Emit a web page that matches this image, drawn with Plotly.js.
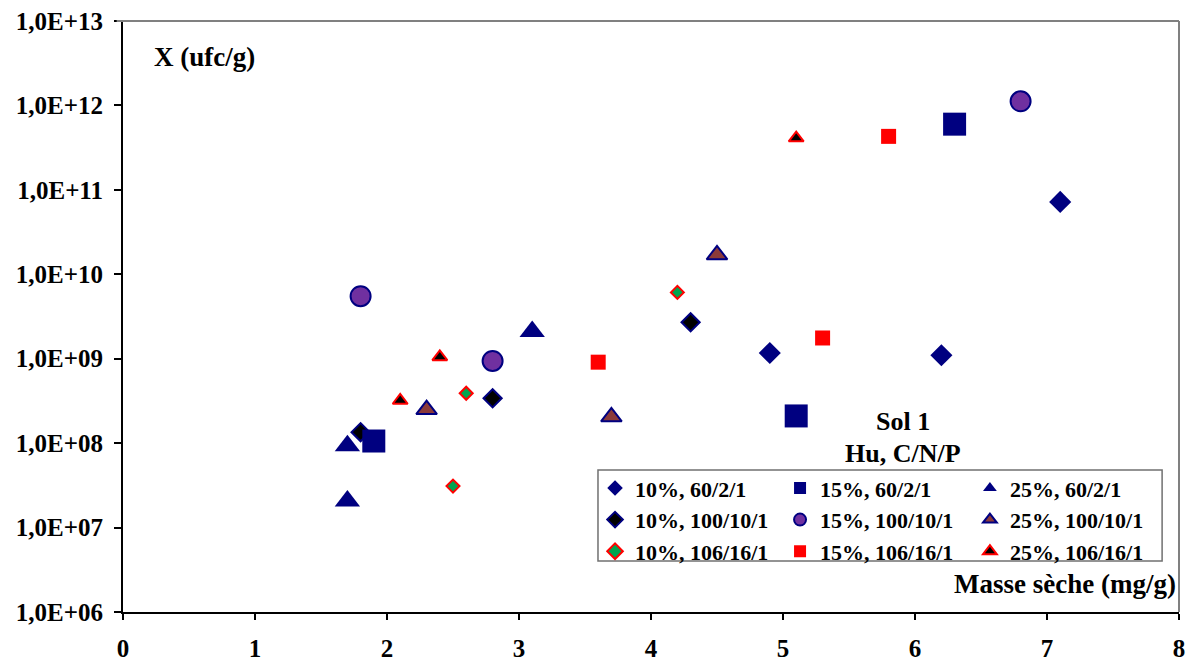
<!DOCTYPE html>
<html>
<head>
<meta charset="utf-8">
<script src="https://cdn.plot.ly/plotly-3.0.1.min.js"></script>
<style>
  html, body { margin: 0; padding: 0; background: #ffffff; }
  #chart { width: 1190px; height: 662px; }
</style>
</head>
<body>
<div id="chart"></div>
<script>
// Dry mass (mg/g) and bacterial count X (ufc/g), soil 1, by humidity and C/N/P ratio
const h10_60 = { x: [4.9, 6.2, 7.1], y: [1.17e9, 1.1e9, 7.2e10] };
const h15_60 = { x: [1.9, 5.1, 6.3], y: [1.06e8, 2.1e8, 6.0e11] };
const h25_60 = { x: [1.7, 1.7, 3.1], y: [9.3e7, 2.07e7, 2.1e9] };
const h10_100 = { x: [1.8, 2.8, 4.3], y: [1.35e8, 3.4e8, 2.7e9] };
const h15_100 = { x: [1.8, 2.8, 6.8], y: [5.5e9, 9.4e8, 1.12e12] };
const h25_100 = { x: [2.3, 3.7, 4.5], y: [2.5e8, 2.05e8, 1.7e10] };
const h10_106 = { x: [2.5, 2.6, 4.2], y: [3.1e7, 3.9e8, 6.1e9] };
const h15_106 = { x: [3.6, 5.3, 5.8], y: [9.1e8, 1.76e9, 4.3e11] };
const h25_106 = { x: [2.1, 2.4, 5.1], y: [3.2e8, 1.05e9, 4.1e11] };

const seriesNames = [
  '10%, 60/2/1', '15%, 60/2/1', '25%, 60/2/1',
  '10%, 100/10/1', '15%, 100/10/1', '25%, 100/10/1',
  '10%, 106/16/1', '15%, 106/16/1', '25%, 106/16/1'
];

const yTickVals = [1e6, 1e7, 1e8, 1e9, 1e10, 1e11, 1e12, 1e13];
const yTickText = ['1,0E+06', '1,0E+07', '1,0E+08', '1,0E+09', '1,0E+10', '1,0E+11', '1,0E+12', '1,0E+13'];
const xTickVals = [0, 1, 2, 3, 4, 5, 6, 7, 8];

const FONT = 'Liberation Serif, Times New Roman, serif';
const NAVY = '#000080';

function pts(d, name, legend, marker) {
  return { type: 'scatter', mode: 'markers', x: d.x, y: d.y, name: name,
           legend: legend, marker: marker, hoverinfo: 'x+y+name' };
}

const traces = [
  pts(h10_60, seriesNames[0], 'legend', { symbol: 'diamond', size: 17, color: NAVY, line: { color: NAVY, width: 0 } }),
  pts(h10_100, seriesNames[3], 'legend', { symbol: 'diamond', size: 14, color: '#000000', line: { color: NAVY, width: 2 } }),
  pts(h10_106, seriesNames[6], 'legend', { symbol: 'diamond', size: 10, color: '#00A550', line: { color: '#FF0000', width: 2 } }),
  pts(h15_60, seriesNames[1], 'legend2', { symbol: 'square', size: 23, color: NAVY, line: { color: NAVY, width: 0 } }),
  pts(h15_100, seriesNames[4], 'legend2', { symbol: 'circle', size: 20, color: '#7030A0', line: { color: NAVY, width: 2 } }),
  pts(h15_106, seriesNames[7], 'legend2', { symbol: 'square', size: 15, color: '#FF0000', line: { color: '#FF0000', width: 0 } }),
  pts(h25_60, seriesNames[2], 'legend3', { symbol: 'triangle-up', size: 22, color: NAVY, line: { color: NAVY, width: 0 } }),
  pts(h25_100, seriesNames[5], 'legend3', { symbol: 'triangle-up', size: 18, color: '#8B3A3A', line: { color: NAVY, width: 2 } }),
  pts(h25_106, seriesNames[8], 'legend3', { symbol: 'triangle-up', size: 13, color: '#000000', line: { color: '#FF0000', width: 2 } })
];

function legendAt(x) {
  return {
    x: x, y: 0.245, xref: 'paper', yref: 'paper', xanchor: 'left', yanchor: 'top',
    orientation: 'v', bgcolor: 'rgba(0,0,0,0)', borderwidth: 0, itemsizing: 'constant',
    tracegroupgap: 0, font: { family: FONT, size: 22, color: '#000000', weight: 700 }
  };
}

const layout = {
  width: 1190, height: 662,
  margin: { l: 123, r: 11, t: 21, b: 50, pad: 0 },
  paper_bgcolor: '#ffffff', plot_bgcolor: '#ffffff',
  font: { family: FONT, color: '#000000', weight: 700 },
  showlegend: true,
  xaxis: {
    range: [0, 8], tickvals: xTickVals, ticks: 'outside', ticklen: 6, tickwidth: 1.5,
    tickcolor: '#000000', showline: true, linecolor: '#000000', linewidth: 2,
    showgrid: false, zeroline: false, ticklabelstandoff: 7,
    tickfont: { family: FONT, size: 25, color: '#000000', weight: 700 }
  },
  yaxis: {
    type: 'log', range: [6, 13], tickvals: yTickVals, ticktext: yTickText,
    ticks: 'outside', ticklen: 7, tickwidth: 1.5, tickcolor: '#000000',
    showline: true, linecolor: '#000000', linewidth: 2,
    showgrid: false, zeroline: false, ticklabelstandoff: 6,
    tickfont: { family: FONT, size: 25, color: '#000000', weight: 700 }
  },
  legend: legendAt(0.447),
  legend2: legendAt(0.6222),
  legend3: legendAt(0.802),
  shapes: [
    // grey frame on the top and right of the plotting area
    { type: 'line', xref: 'paper', yref: 'paper', x0: -0.006, x1: 1, y0: 1, y1: 1,
      line: { color: '#808080', width: 2 } },
    { type: 'line', xref: 'paper', yref: 'paper', x0: 1, x1: 1, y0: 0, y1: 1,
      line: { color: '#808080', width: 2 } },
    // legend box
    { type: 'rect', xref: 'paper', yref: 'paper', x0: 0.4498, x1: 0.984, y0: 0.0863, y1: 0.2403,
      line: { color: '#707070', width: 1.5 }, fillcolor: '#ffffff', layer: 'below' }
  ],
  annotations: [
    { text: 'X (ufc/g)', xref: 'paper', yref: 'paper', x: 0.0275, y: 0.939,
      xanchor: 'left', yanchor: 'middle', showarrow: false,
      font: { family: FONT, size: 27, color: '#000000', weight: 700 } },
    { text: 'Masse sèche (mg/g)', xref: 'paper', yref: 'paper', x: 0.999, y: 0.047,
      xanchor: 'right', yanchor: 'middle', showarrow: false,
      font: { family: FONT, size: 27, color: '#000000', weight: 700 } },
    { text: 'Sol 1', xref: 'paper', yref: 'paper', x: 0.7386, y: 0.3215,
      xanchor: 'center', yanchor: 'middle', showarrow: false,
      font: { family: FONT, size: 26, color: '#000000', weight: 700 } },
    { text: 'Hu, C/N/P', xref: 'paper', yref: 'paper', x: 0.7386, y: 0.269,
      xanchor: 'center', yanchor: 'middle', showarrow: false,
      font: { family: FONT, size: 26, color: '#000000', weight: 700 } }
  ]
};

Plotly.newPlot('chart', traces, layout, { displayModeBar: false, responsive: false });
</script>
</body>
</html>
